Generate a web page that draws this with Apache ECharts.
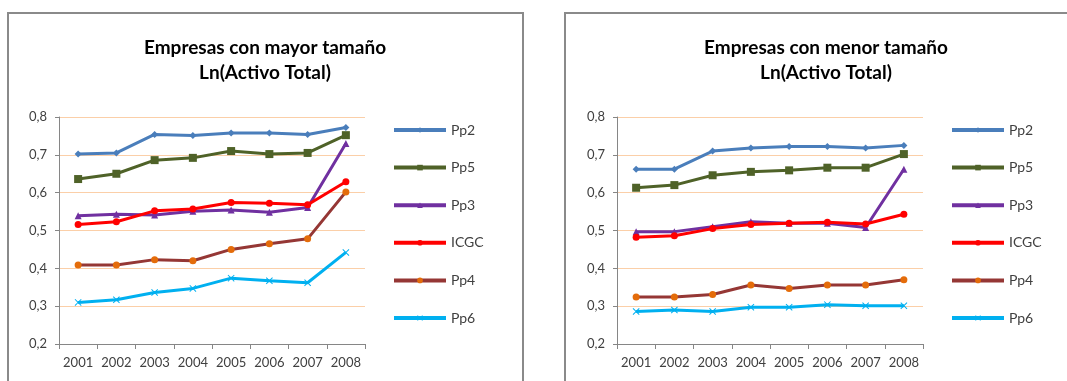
<!DOCTYPE html>
<html>
<head>
<meta charset="utf-8">
<script src="https://cdn.jsdelivr.net/npm/echarts@6/dist/echarts.min.js"></script>
<style>
html, body { margin: 0; padding: 0; background: #fff; }
#main { width: 1067px; height: 381px; }
</style>
</head>
<body>
<div id="main"></div>
<script>
var years = ['2001', '2002', '2003', '2004', '2005', '2006', '2007', '2008'];
var seriesNames = ['Pp2', 'Pp5', 'Pp3', 'ICGC', 'Pp4', 'Pp6'];
var yTicks = [0.2, 0.3, 0.4, 0.5, 0.6, 0.7, 0.8];

// Empresas con mayor tamaño
var mayorPp2 = [0.702, 0.705, 0.754, 0.751, 0.758, 0.758, 0.754, 0.772];
var mayorPp5 = [0.636, 0.650, 0.686, 0.692, 0.710, 0.702, 0.705, 0.752];
var mayorPp3 = [0.539, 0.543, 0.541, 0.551, 0.554, 0.548, 0.561, 0.730];
var mayorICGC = [0.516, 0.523, 0.552, 0.557, 0.574, 0.572, 0.568, 0.629];
var mayorPp4 = [0.409, 0.409, 0.423, 0.420, 0.450, 0.465, 0.478, 0.602];
var mayorPp6 = [0.310, 0.317, 0.336, 0.347, 0.374, 0.367, 0.362, 0.442];

// Empresas con menor tamaño
var menorPp2 = [0.662, 0.662, 0.710, 0.718, 0.722, 0.722, 0.718, 0.725];
var menorPp5 = [0.613, 0.620, 0.646, 0.655, 0.659, 0.666, 0.666, 0.702];
var menorPp3 = [0.497, 0.497, 0.510, 0.523, 0.519, 0.519, 0.508, 0.662];
var menorICGC = [0.482, 0.486, 0.505, 0.516, 0.519, 0.522, 0.517, 0.543];
var menorPp4 = [0.324, 0.324, 0.331, 0.356, 0.347, 0.356, 0.356, 0.370];
var menorPp6 = [0.286, 0.290, 0.286, 0.297, 0.297, 0.304, 0.301, 0.301];

var FONT = 'Lato, "Open Sans", sans-serif';
var TXT = '#404040';
var AXIS = '#868686';
var GRIDLINE = '#fbcfa8';

// estilo de cada serie (mismo orden que seriesNames)
var styles = [
    { color: '#4a7ebb', symbol: 'diamond', size: 7 },
    { color: '#4f6228', symbol: 'rect', size: 8 },
    { color: '#7030a0', symbol: 'triangle', size: 7 },
    { color: '#ff0000', symbol: 'circle', size: 7 },
    { color: '#953735', symbol: 'circle', size: 7, marker: '#e46c0a' },
    { color: '#00b0f0', symbol: 'path://M1,0L5,4L9,0L10,1L6,5L10,9L9,10L5,6L1,10L0,9L4,5L0,1Z', size: 7 }
];

var mayor = [mayorPp2, mayorPp5, mayorPp3, mayorICGC, mayorPp4, mayorPp6];
var menor = [menorPp2, menorPp5, menorPp3, menorICGC, menorPp4, menorPp6];

function fmt(v) { return v.toFixed(1).replace('.', ','); }

function makeSeries(sets, idx) {
    return sets.map(function (vals, i) {
        var s = styles[i];
        return {
            name: seriesNames[i],
            type: 'line',
            xAxisIndex: idx,
            yAxisIndex: idx,
            data: vals,
            symbol: s.symbol,
            symbolSize: s.size,
            showAllSymbol: true,
            lineStyle: { color: s.color, width: 3 },
            itemStyle: { color: s.marker || s.color },
            animation: false
        };
    });
}

function xAxisFor(idx) {
    return {
        type: 'category',
        gridIndex: idx,
        data: years,
        boundaryGap: true,
        axisLine: { lineStyle: { color: AXIS, width: 1 } },
        axisTick: { show: true, length: 5, lineStyle: { color: AXIS } },
        axisLabel: { interval: 0, color: TXT, fontFamily: FONT, fontSize: 13, margin: 12 }
    };
}

function yAxisFor(idx) {
    return {
        type: 'value',
        gridIndex: idx,
        min: 0.2,
        max: 0.8,
        interval: 0.1,
        axisLine: { show: true, lineStyle: { color: AXIS, width: 1 } },
        axisTick: { show: true, length: 4, lineStyle: { color: AXIS } },
        axisLabel: { color: TXT, fontFamily: FONT, fontSize: 13, margin: 12, formatter: fmt },
        splitLine: { show: true, lineStyle: { color: GRIDLINE, width: 1 } }
    };
}

function legendFor(left) {
    return {
        orient: 'vertical',
        left: left,
        top: 123,
        padding: 0,
        itemWidth: 52,
        itemHeight: 7,
        itemGap: 23.6,
        data: seriesNames,
        lineStyle: { width: 4 },
        textStyle: { color: TXT, fontFamily: FONT, fontSize: 14 }
    };
}

var myChart = echarts.init(document.getElementById('main'));

var option = {
    backgroundColor: '#fff',
    animation: false,
    graphic: [
        { type: 'rect', shape: { x: 8, y: 13, width: 515, height: 380 }, style: { fill: 'none', stroke: '#8a8a8a', lineWidth: 2 } },
        { type: 'rect', shape: { x: 565, y: 13, width: 520, height: 380 }, style: { fill: 'none', stroke: '#8a8a8a', lineWidth: 2 } }
    ],
    title: [
        {
            text: 'Empresas con mayor tamaño\nLn(Activo Total)',
            left: 265, top: 35, textAlign: 'center', padding: 0,
            textStyle: { color: '#000', fontFamily: FONT, fontWeight: 'bold', fontSize: 19, lineHeight: 25 }
        },
        {
            text: 'Empresas con menor tamaño\nLn(Activo Total)',
            left: 826, top: 35, textAlign: 'center', padding: 0,
            textStyle: { color: '#000', fontFamily: FONT, fontWeight: 'bold', fontSize: 19, lineHeight: 25 }
        }
    ],
    legend: [legendFor(392), legendFor(950)],
    grid: [
        { left: 59, top: 117, width: 306, height: 227 },
        { left: 617, top: 117, width: 306, height: 227 }
    ],
    xAxis: [xAxisFor(0), xAxisFor(1)],
    yAxis: [yAxisFor(0), yAxisFor(1)],
    series: makeSeries(mayor, 0).concat(makeSeries(menor, 1))
};

myChart.setOption(option);
</script>
</body>
</html>
